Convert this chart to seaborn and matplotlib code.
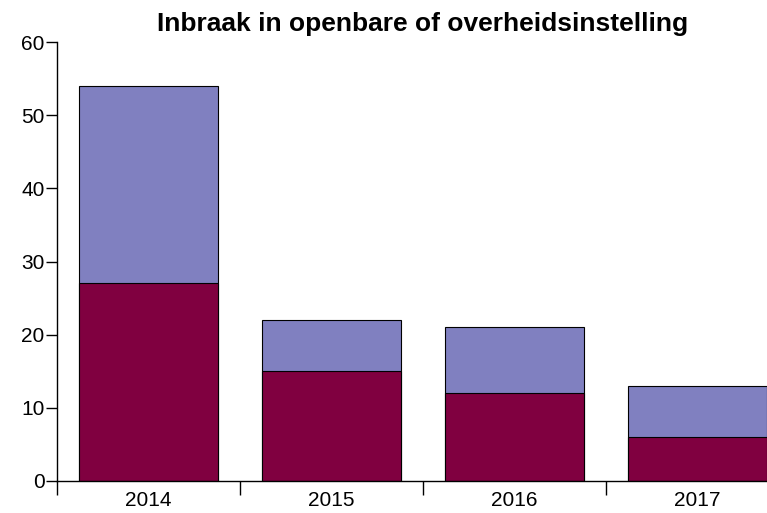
import pandas as pd
import matplotlib
matplotlib.use('Agg')
import matplotlib.pyplot as plt
import seaborn as sns

# data
years = ['2014', '2015', '2016', '2017']
bottom_part = [27, 15, 12, 6]
top_part = [27, 7, 9, 7]

sns.set_style('white')
plt.rcParams['font.family'] = ['Liberation Sans', 'DejaVu Sans']
plt.rcParams['text.color'] = 'black'
plt.rcParams['xtick.color'] = 'black'
plt.rcParams['ytick.color'] = 'black'

df = pd.DataFrame({'jaar': years, 'onder': bottom_part, 'boven': top_part})
df['totaal'] = df['onder'] + df['boven']

fig = plt.figure(figsize=(7.67, 5.13), dpi=100)
ax = fig.add_axes([57 / 767, 32 / 513, 732 / 767, 439 / 513])

# stacked: draw total first, then bottom part on top
sns.barplot(data=df, x='jaar', y='totaal', color='#8080C0', saturation=1,
            width=0.765, edgecolor='black', linewidth=0.8, ax=ax)
sns.barplot(data=df, x='jaar', y='onder', color='#800040', saturation=1,
            width=0.765, edgecolor='black', linewidth=0.8, ax=ax)

ax.set_xlim(-0.5, 3.5)
ax.set_ylim(0, 60)
ax.set_yticks(range(0, 61, 10))
ax.set_xlabel('')
ax.set_ylabel('')

for s in ['top', 'right']:
    ax.spines[s].set_visible(False)
for s in ['left', 'bottom']:
    ax.spines[s].set_color('black')
    ax.spines[s].set_linewidth(1)

ax.tick_params(axis='y', which='major', left=True, length=8, width=1,
               color='black', labelsize=15, pad=1, labelcolor='black')
ax.tick_params(axis='x', which='major', bottom=False, length=0,
               labelsize=15, pad=7, labelcolor='black')
ax.set_xticks([-0.5, 0.5, 1.5, 2.5, 3.5], minor=True)
ax.tick_params(axis='x', which='minor', bottom=True, length=10, width=1,
               color='black')

ax.set_title('Inbraak in openbare of overheidsinstelling',
             fontsize=19, fontweight='bold', pad=8, color='black')

fig.savefig('out.png', dpi=100)
